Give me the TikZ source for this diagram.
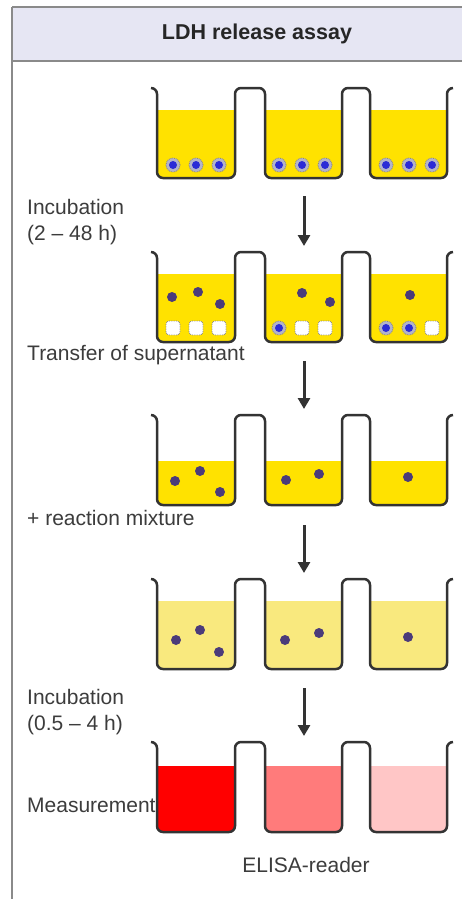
\documentclass[tikz,border=0pt]{standalone}
\usepackage{fontspec}
\setmainfont{Liberation Sans}
\usetikzlibrary{arrows.meta}

\definecolor{liquid}{HTML}{FFE200}
\definecolor{mixture}{HTML}{F9E97E}
\definecolor{redA}{HTML}{FF0000}
\definecolor{redB}{HTML}{FF7B7B}
\definecolor{redC}{HTML}{FFC6C6}
\definecolor{wallgray}{HTML}{333333}
\definecolor{ldhcol}{HTML}{4B3B7A}
\definecolor{nuccol}{HTML}{2B2BD6}
\definecolor{cellcol}{HTML}{B4B4C8}
\definecolor{headfill}{HTML}{E6E6F3}
\definecolor{framegray}{HTML}{8A8A8A}
\definecolor{textgray}{HTML}{3C3C3C}

% one row of three wells: #1 top edge, #2 liquid level, #3-#5 liquid colours
\newcommand\wellrow[5]{%
  \foreach \xa/\xb/\c in {157/235/#3, 265/342/#4, 370/447/#5}{%
    \begin{scope}
      \clip[rounded corners=6pt] (\xa,#1-10) rectangle (\xb,#1+90);
      \fill[\c] (\xa,#2) rectangle (\xb,#1+90);
    \end{scope}
  }%
  \draw[wall] (151,#1) -- (157,#1) -- (157,#1+90) -- (235,#1+90) -- (235,#1)
    -- (265,#1) -- (265,#1+90) -- (342,#1+90) -- (342,#1) -- (370,#1)
    -- (370,#1+90) -- (447,#1+90) -- (447,#1) -- (453,#1);
}
% released enzyme
\newcommand\ldh[2]{\fill[ldhcol] (#1,#2) circle (5pt);}
% intact cell with nucleus
\newcommand\livecell[2]{%
  \filldraw[cellbox] (#1,#2) circle (7pt);
  \fill[nuccol] (#1,#2) circle (4pt);}
% lysed cell
\newcommand\deadcell[2]{\filldraw[deadbox] (#1-7,#2-7) rectangle (#1+7,#2+7);}

\begin{document}
\begin{tikzpicture}[x=1pt,y=-1pt,
  wall/.style={draw=wallgray,line width=2.5pt,rounded corners=6pt,line join=round},
  cellbox/.style={fill=cellcol,draw=gray,densely dotted,line width=0.8pt},
  deadbox/.style={fill=white,draw=gray,densely dotted,line width=0.8pt,rounded corners=3pt},
  steparrow/.style={draw=wallgray,line width=3pt,-{Triangle[width=12pt,length=11pt]}},
  lbl/.style={anchor=base west,inner sep=0pt,text=textgray,font=\fontsize{21}{25}\selectfont},
]
\useasboundingbox (0,0) rectangle (462,899);
\fill[white] (0,0) rectangle (462,899);

% header band and frame
\fill[headfill] (12,7) rectangle (462,61);
\draw[framegray,line width=2pt] (12,7) -- (462,7);
\draw[framegray,line width=2pt] (12,61) -- (462,61);
\draw[framegray,line width=2pt] (12,7) -- (12,899);
\node[inner sep=0pt,text=black!85,font=\fontsize{21.5}{25}\selectfont\bfseries] (title) at (257,34) {LDH release assay};

% row 1: cells in medium
\wellrow{88}{110}{liquid}{liquid}{liquid}
\foreach \x in {173,196,219,279,302,325,386,409,432}{\livecell{\x}{165}}

% row 2: after incubation
\wellrow{252}{274}{liquid}{liquid}{liquid}
\foreach \x in {173,196,219,302,325,432}{\deadcell{\x}{328}}
\foreach \x in {279,386,409}{\livecell{\x}{328}}
\ldh{172}{297}\ldh{198}{292}\ldh{220}{304}
\ldh{302}{293}\ldh{330}{302}
\ldh{410}{295}

% row 3: supernatant
\wellrow{415}{461}{liquid}{liquid}{liquid}
\ldh{175}{481}\ldh{200}{471}\ldh{220}{492}
\ldh{286}{480}\ldh{319}{474}
\ldh{408}{477}

% row 4: with reaction mixture
\wellrow{579}{601}{mixture}{mixture}{mixture}
\ldh{176}{640}\ldh{200}{630}\ldh{219}{652}
\ldh{285}{640}\ldh{319}{633}
\ldh{408}{637}

% row 5: coloured product
\wellrow{742}{766}{redA}{redB}{redC}

% step arrows
\coordinate (a1) at (304,196); \coordinate (b1) at (304,246);
\coordinate (a2) at (304,361); \coordinate (b2) at (304,409);
\coordinate (a3) at (304,525); \coordinate (b3) at (304,573);
\coordinate (a4) at (304,688); \coordinate (b4) at (304,736);
\draw[steparrow] (a1) -- (b1);
\draw[steparrow] (a2) -- (b2);
\draw[steparrow] (a3) -- (b3);
\draw[steparrow] (a4) -- (b4);

% step labels
\node[lbl] (inc1) at (27,214) {Incubation};
\node[lbl] (inc1t) at (27,240) {(2 – 48 h)};
\node[lbl] (trans) at (27,360) {Transfer of supernatant};
\node[lbl] (react) at (27,525) {+ reaction mixture};
\node[lbl] (inc2) at (27,704) {Incubation};
\node[lbl] (inc2t) at (27,730) {(0.5 – 4 h)};
\node[lbl] (meas) at (27,812) {Measurement};
\node[lbl,anchor=base] (reader) at (306,872) {ELISA-reader};
\end{tikzpicture}
\end{document}
